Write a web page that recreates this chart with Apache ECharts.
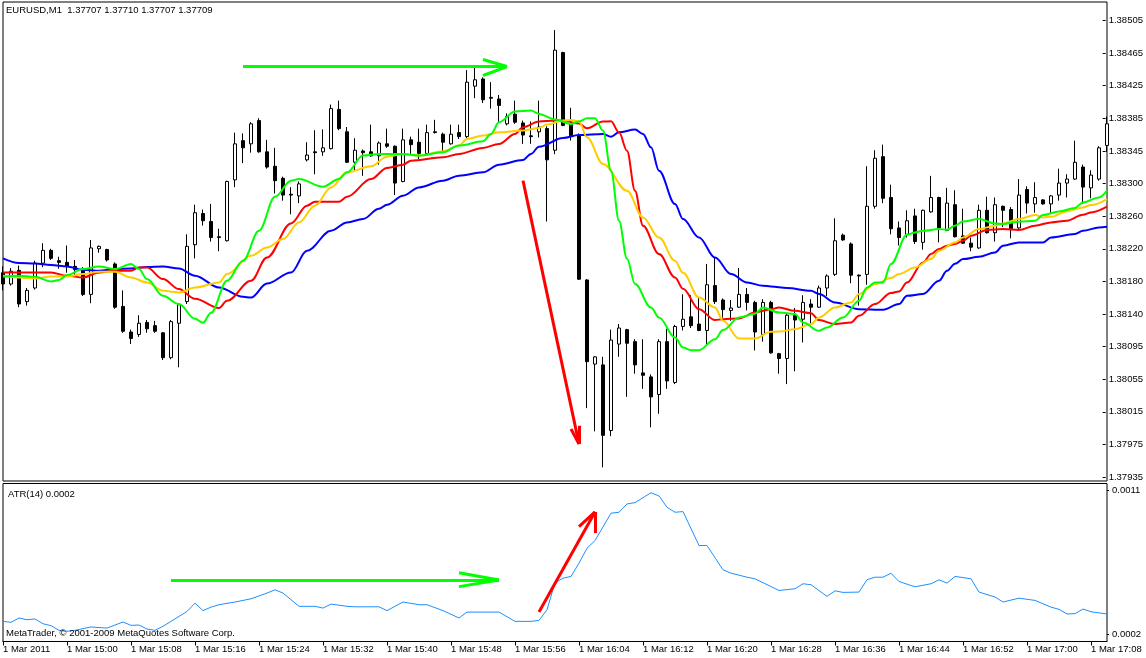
<!DOCTYPE html>
<html>
<head>
<meta charset="utf-8">
<script src="https://cdn.jsdelivr.net/npm/echarts@6/dist/echarts.min.js"></script>
<style>
html,body{margin:0;padding:0;background:#fff;}
#chart{width:1146px;height:658px;}
</style>
</head>
<body>
<div id="chart"></div>
<script>
// ---- categories (1-minute bars, 1 Mar 2011) ----
const times = ('14:52 14:53 14:54 14:55 14:56 14:57 14:58 14:59 ' +
 '15:00 15:01 15:02 15:03 15:04 15:05 15:06 15:07 15:08 15:09 15:10 15:11 15:12 15:13 15:14 15:15 15:16 15:17 15:18 15:19 ' +
 '15:20 15:21 15:22 15:23 15:24 15:25 15:26 15:27 15:28 15:29 15:30 15:31 15:32 15:33 15:34 15:35 15:36 15:37 15:38 15:39 ' +
 '15:40 15:41 15:42 15:43 15:44 15:45 15:46 15:47 15:48 15:49 15:50 15:51 15:52 15:53 15:54 15:55 15:56 15:57 15:58 15:59 ' +
 '16:00 16:01 16:02 16:03 16:04 16:05 16:06 16:07 16:08 16:09 16:10 16:11 16:12 16:13 16:14 16:15 16:16 16:17 16:18 16:19 ' +
 '16:20 16:21 16:22 16:23 16:24 16:25 16:26 16:27 16:28 16:29 16:30 16:31 16:32 16:33 16:34 16:35 16:36 16:37 16:38 16:39 ' +
 '16:40 16:41 16:42 16:43 16:44 16:45 16:46 16:47 16:48 16:49 16:50 16:51 16:52 16:53 16:54 16:55 16:56 16:57 16:58 16:59 ' +
 '17:00 17:01 17:02 17:03 17:04 17:05 17:06 17:07 17:08 17:09 17:10').split(' ');
const dayPrefix = '1 Mar ';
const firstTickLabel = '1 Mar 2011';

// ---- OHLC ----
const opens = [1.38190,1.38176,1.38193,1.38154,1.38171,1.38202,1.38218,1.38205,1.38203,1.38198,
1.38193,1.38163,1.38220,1.38219,1.38201,1.38148,1.38116,1.38113,1.38128,1.38124,
1.38115,1.38084,1.38127,1.38154,1.38225,1.38264,1.38254,1.38235,1.38230,1.38306,
1.38355,1.38351,1.38380,1.38341,1.38323,1.38308,1.38288,1.38286,1.38331,1.38341,
1.38341,1.38345,1.38394,1.38366,1.38328,1.38342,1.38341,1.38336,1.38351,1.38348,
1.38304,1.38356,1.38353,1.38339,1.38366,1.38363,1.38351,1.38365,1.38360,1.38423,
1.38432,1.38409,1.38407,1.38376,1.38388,1.38377,1.38361,1.38366,1.38370,1.38343,
1.38465,1.38376,1.38361,1.38181,1.38076,1.38075,1.37993,1.38101,1.38119,1.38104,
1.38065,1.38060,1.38038,1.38104,1.38053,1.38123,1.38135,1.38126,1.38118,1.38174,
1.38156,1.38143,1.38147,1.38163,1.38153,1.38113,1.38153,1.38089,1.38083,1.38137,
1.38132,1.38151,1.38147,1.38171,1.38188,1.38237,1.38226,1.38187,1.38188,1.38273,
1.38335,1.38284,1.38246,1.38238,1.38261,1.38228,1.38266,1.38284,1.38243,1.38275,
1.38236,1.38227,1.38221,1.38268,1.38240,1.38273,1.38269,1.38246,1.38294,1.38276,
1.38281,1.38276,1.38287,1.38302,1.38307,1.38322,1.38296,1.38307,1.38349];
const closes = [1.38176,1.38192,1.38151,1.38168,1.38202,1.38218,1.38208,1.38203,1.38198,1.38194,
1.38163,1.38221,1.38223,1.38206,1.38147,1.38117,1.38108,1.38127,1.38120,1.38117,
1.38084,1.38129,1.38150,1.38223,1.38265,1.38255,1.38234,1.38234,1.38304,1.38351,
1.38346,1.38376,1.38341,1.38322,1.38305,1.38287,1.38287,1.38301,1.38337,1.38340,
1.38346,1.38395,1.38370,1.38328,1.38343,1.38340,1.38336,1.38352,1.38348,1.38302,
1.38356,1.38350,1.38339,1.38365,1.38365,1.38353,1.38363,1.38360,1.38428,1.38431,
1.38406,1.38408,1.38399,1.38385,1.38378,1.38362,1.38360,1.38372,1.38331,1.38468,
1.38374,1.38361,1.38182,1.38079,1.38085,1.37987,1.38106,1.38121,1.38102,1.38075,
1.38062,1.38035,1.38104,1.38055,1.38123,1.38132,1.38124,1.38118,1.38175,1.38154,
1.38144,1.38146,1.38163,1.38153,1.38116,1.38153,1.38090,1.38083,1.38137,1.38131,
1.38153,1.38147,1.38171,1.38186,1.38230,1.38231,1.38187,1.38186,1.38273,1.38333,
1.38283,1.38245,1.38234,1.38255,1.38229,1.38268,1.38284,1.38246,1.38277,1.38235,
1.38227,1.38222,1.38268,1.38240,1.38275,1.38268,1.38245,1.38287,1.38277,1.38284,
1.38276,1.38286,1.38302,1.38307,1.38328,1.38297,1.38312,1.38346,1.38376];
const lows = [1.38168,1.38174,1.38147,1.38149,1.38169,1.38197,1.38206,1.38195,1.38190,1.38186,
1.38161,1.38152,1.38215,1.38204,1.38145,1.38115,1.38101,1.38110,1.38115,1.38115,
1.38081,1.38082,1.38072,1.38151,1.38208,1.38249,1.38229,1.38217,1.38229,1.38297,
1.38327,1.38340,1.38340,1.38320,1.38289,1.38280,1.38263,1.38277,1.38329,1.38313,
1.38336,1.38344,1.38368,1.38327,1.38317,1.38311,1.38335,1.38325,1.38346,1.38287,
1.38303,1.38337,1.38332,1.38338,1.38364,1.38342,1.38350,1.38357,1.38358,1.38408,
1.38402,1.38395,1.38377,1.38374,1.38376,1.38351,1.38351,1.38359,1.38254,1.38338,
1.38373,1.38355,1.38181,1.38021,1.37992,1.37947,1.37986,1.38085,1.38035,1.38064,
1.38045,1.37997,1.38014,1.38045,1.38051,1.38118,1.38121,1.38117,1.38099,1.38151,
1.38134,1.38130,1.38146,1.38143,1.38093,1.38104,1.38089,1.38064,1.38051,1.38067,
1.38103,1.38127,1.38146,1.38161,1.38186,1.38230,1.38177,1.38149,1.38175,1.38270,
1.38277,1.38238,1.38224,1.38234,1.38226,1.38219,1.38265,1.38228,1.38242,1.38234,
1.38226,1.38217,1.38220,1.38239,1.38229,1.38247,1.38233,1.38245,1.38264,1.38265,
1.38275,1.38265,1.38280,1.38284,1.38306,1.38276,1.38283,1.38305,1.38341];
const highs = [1.38198,1.38196,1.38199,1.38171,1.38205,1.38227,1.38220,1.38210,1.38224,1.38206,
1.38197,1.38231,1.38224,1.38220,1.38203,1.38168,1.38119,1.38137,1.38131,1.38130,
1.38116,1.38131,1.38151,1.38238,1.38275,1.38269,1.38276,1.38245,1.38305,1.38365,
1.38364,1.38378,1.38383,1.38356,1.38346,1.38310,1.38297,1.38304,1.38353,1.38368,
1.38369,1.38400,1.38405,1.38372,1.38358,1.38344,1.38375,1.38354,1.38370,1.38349,
1.38370,1.38360,1.38370,1.38375,1.38381,1.38365,1.38375,1.38375,1.38443,1.38447,
1.38434,1.38428,1.38412,1.38389,1.38405,1.38380,1.38379,1.38405,1.38373,1.38493,
1.38466,1.38396,1.38364,1.38182,1.38086,1.38085,1.38119,1.38126,1.38120,1.38107,
1.38107,1.38063,1.38107,1.38120,1.38125,1.38163,1.38162,1.38159,1.38201,1.38209,
1.38158,1.38156,1.38196,1.38171,1.38155,1.38157,1.38155,1.38090,1.38139,1.38146,
1.38162,1.38157,1.38174,1.38188,1.38258,1.38239,1.38228,1.38188,1.38323,1.38343,
1.38350,1.38300,1.38254,1.38268,1.38270,1.38269,1.38311,1.38285,1.38296,1.38293,
1.38270,1.38234,1.38275,1.38285,1.38284,1.38274,1.38272,1.38307,1.38298,1.38303,
1.38282,1.38287,1.38320,1.38313,1.38355,1.38325,1.38318,1.38348,1.38385];

// ---- moving averages, read at sampled bars: [barIndex, value] ----
const maGreen = [[0,1.381850],[2,1.381863],[4,1.381850],[6,1.381791],[7,1.381809],[8,1.381871],[10,1.381946],[12,1.381979],[14,1.381946],[16,1.382009],[17,1.381946],[18,1.381821],[20,1.381613],[22,1.381509],[24,1.381325],[25,1.381275],[26,1.381400],[28,1.381800],[30,1.382050],[32,1.382425],[34,1.382850],[36,1.383050],[37,1.383071],[40,1.382975],[42,1.383071],[43,1.383154],[45,1.383363],[47,1.383384],[50,1.383384],[52,1.383363],[55,1.383404],[57,1.383488],[60,1.383541],[61,1.383634],[62,1.383779],[64,1.383913],[66,1.383925],[67,1.383884],[69,1.383813],[71,1.383759],[72,1.383788],[73,1.383829],[74,1.383829],[75,1.383675],[76,1.383175],[77,1.382550],[78,1.382075],[79,1.381759],[81,1.381466],[82,1.381341],[84,1.381091],[85,1.380966],[86,1.380934],[87,1.380934],[89,1.381071],[90,1.381184],[92,1.381341],[94,1.381388],[95,1.381466],[97,1.381404],[99,1.381384],[100,1.381279],[102,1.381175],[103,1.381216],[105,1.381341],[107,1.381550],[108,1.381716],[109,1.381779],[110,1.381779],[111,1.382009],[113,1.382375],[114,1.382404],[115,1.382425],[117,1.382446],[118,1.382438],[119,1.382488],[120,1.382541],[122,1.382571],[124,1.382516],[125,1.382509],[127,1.382538],[129,1.382550],[130,1.382621],[132,1.382666],[134,1.382709],[135,1.382779],[137,1.382841],[138,1.382925]];
const maGold = [[0,1.381863],[2,1.381841],[4,1.381829],[6,1.381854],[8,1.381854],[10,1.381884],[12,1.381913],[14,1.381913],[16,1.381841],[18,1.381779],[20,1.381675],[22,1.381654],[24,1.381716],[27,1.381779],[28,1.381884],[31,1.382113],[33,1.382216],[35,1.382321],[37,1.382529],[39,1.382738],[41,1.382966],[43,1.383154],[46,1.383229],[48,1.383350],[50,1.383384],[52,1.383363],[55,1.383416],[57,1.383488],[58,1.383571],[60,1.383613],[62,1.383654],[65,1.383675],[67,1.383709],[68,1.383750],[70,1.383800],[71,1.383809],[72,1.383788],[73,1.383591],[75,1.383259],[78,1.382925],[80,1.382591],[82,1.382341],[84,1.382050],[85,1.381900],[87,1.381591],[89,1.381466],[90,1.381300],[92,1.381079],[94,1.381079],[96,1.381163],[97,1.381166],[99,1.381196],[101,1.381259],[102,1.381341],[104,1.381466],[106,1.381529],[107,1.381634],[109,1.381759],[111,1.381834],[112,1.381884],[114,1.381966],[116,1.382071],[117,1.382175],[119,1.382279],[120,1.382341],[122,1.382446],[124,1.382488],[125,1.382516],[127,1.382571],[129,1.382621],[130,1.382591],[131,1.382600],[133,1.382666],[135,1.382716],[136,1.382746],[138,1.382821]];
const maRed = [[0,1.381904],[6,1.381904],[8,1.381863],[10,1.381841],[12,1.381904],[14,1.381925],[16,1.381925],[17,1.381966],[18,1.381966],[20,1.381821],[22,1.381696],[24,1.381575],[27,1.381460],[28,1.381550],[31,1.381800],[33,1.382091],[36,1.382516],[38,1.382738],[39,1.382788],[42,1.382788],[43,1.382850],[46,1.383071],[48,1.383209],[50,1.383250],[51,1.383300],[55,1.383341],[57,1.383384],[60,1.383459],[62,1.383509],[64,1.383634],[65,1.383716],[67,1.383788],[69,1.383800],[70,1.383800],[72,1.383763],[73,1.383704],[75,1.383788],[76,1.383791],[77,1.383654],[78,1.383425],[79,1.382925],[80,1.382488],[82,1.382134],[84,1.381841],[85,1.381700],[87,1.381446],[89,1.381309],[90,1.381321],[92,1.381329],[94,1.381404],[96,1.381446],[97,1.381466],[99,1.381425],[101,1.381396],[102,1.381309],[104,1.381259],[106,1.381279],[107,1.381363],[109,1.381509],[111,1.381646],[112,1.381666],[113,1.381779],[115,1.382029],[116,1.382134],[117,1.382196],[118,1.382238],[119,1.382259],[120,1.382300],[121,1.382363],[123,1.382434],[125,1.382446],[127,1.382434],[129,1.382488],[131,1.382529],[133,1.382550],[135,1.382625],[136,1.382654],[138,1.382725]];
const maBlue = [[0,1.382079],[2,1.382021],[4,1.382016],[6,1.381996],[8,1.381979],[10,1.381938],[12,1.381925],[14,1.381946],[16,1.381954],[18,1.381971],[20,1.381979],[22,1.381954],[24,1.381863],[27,1.381716],[30,1.381600],[31,1.381591],[33,1.381765],[36,1.381904],[38,1.382175],[41,1.382425],[43,1.382529],[45,1.382571],[47,1.382700],[48,1.382750],[50,1.382863],[52,1.382966],[55,1.383050],[57,1.383113],[60,1.383154],[62,1.383250],[65,1.383309],[66,1.383384],[67,1.383475],[70,1.383584],[72,1.383621],[75,1.383634],[76,1.383600],[77,1.383654],[79,1.383688],[80,1.383634],[81,1.383466],[82,1.383175],[84,1.382759],[85,1.382571],[87,1.382341],[89,1.382091],[91,1.381884],[93,1.381779],[95,1.381738],[96,1.381729],[98,1.381709],[101,1.381675],[102,1.381634],[104,1.381529],[107,1.381446],[110,1.381438],[112,1.381509],[113,1.381613],[115,1.381634],[117,1.381800],[118,1.381925],[119,1.382013],[120,1.382071],[122,1.382100],[124,1.382154],[125,1.382238],[127,1.382279],[130,1.382279],[131,1.382341],[134,1.382384],[135,1.382425],[137,1.382466],[138,1.382475]];

// ---- ATR(14), read at sampled bars ----
const atr = [[0,0.000279],[1,0.000273],[2,0.000300],[3,0.000289],[4,0.000294],[5,0.000264],[6,0.000252],[7,0.000223],[8,0.000217],[9,0.000223],[11,0.000244],[13,0.000237],[15,0.000275],[16,0.000254],[17,0.000256],[18,0.000231],[19,0.000223],[20,0.000248],[21,0.000279],[23,0.000341],[24,0.000393],[25,0.000346],[26,0.000368],[27,0.000383],[29,0.000400],[31,0.000420],[33,0.000456],[34,0.000476],[35,0.000456],[37,0.000373],[39,0.000373],[40,0.000362],[41,0.000387],[43,0.000373],[44,0.000370],[47,0.000370],[48,0.000346],[50,0.000400],[52,0.000383],[53,0.000383],[55,0.000346],[57,0.000300],[58,0.000337],[62,0.000337],[64,0.000279],[66,0.000279],[67,0.000285],[68,0.000352],[69,0.000520],[70,0.000549],[71,0.000560],[72,0.000643],[73,0.000736],[74,0.000784],[76,0.000955],[77,0.000961],[78,0.001013],[79,0.001021],[81,0.001083],[82,0.001063],[83,0.000992],[84,0.000961],[85,0.000965],[87,0.000753],[88,0.000753],[90,0.000601],[91,0.000580],[93,0.000555],[94,0.000545],[97,0.000472],[99,0.000483],[100,0.000514],[101,0.000508],[103,0.000435],[104,0.000470],[105,0.000460],[107,0.000462],[108,0.000539],[109,0.000555],[110,0.000555],[111,0.000580],[112,0.000528],[114,0.000495],[116,0.000514],[117,0.000539],[118,0.000518],[119,0.000560],[121,0.000545],[122,0.000462],[124,0.000431],[125,0.000400],[127,0.000424],[129,0.000410],[131,0.000368],[132,0.000354],[133,0.000325],[134,0.000327],[135,0.000356],[136,0.000339],[138,0.000325]];

// ---- axis tick labels ----
const priceTickLabels = ['1.37935','1.37975','1.38015','1.38055','1.38095','1.38140','1.38180','1.38220','1.38260','1.38300','1.38345','1.38385','1.38425','1.38465','1.38505'];
const atrTickLabels = ['0.0002','0.0011'];

// ---- hand-drawn arrow annotations (data coordinates) ----
const priceArrows = [
  {color:'#00ff00', from:[30, 1.384475], to:[63.2, 1.384475], wings:[[60.1, 1.384563],[60.1, 1.384363]]},
  {color:'#ff0000', from:[65.0, 1.383050], to:[72.0, 1.379763], wings:[[70.9, 1.379950],[72.25, 1.379990]]}
];
const atrArrows = [
  {color:'#00ff00', from:[20.9, 0.0005375], to:[62.2, 0.0005375], wings:[[57.0, 0.000583],[57.0, 0.000496]]},
  {color:'#ff0000', from:[67.1, 0.000338], to:[74.0, 0.000963], wings:[[71.9, 0.000871],[74.2, 0.000831]]}
];

// ---- texts ----
const headerText = 'EURUSD,M1  1.37707 1.37710 1.37707 1.37709';
const atrTitle = 'ATR(14) 0.0002';
const copyrightText = 'MetaTrader, \u00a9 2001-2009 MetaQuotes Software Corp.';

const FONT = "'Liberation Sans', Arial, sans-serif";
const FS = 9.5;

function arrowLines(arrows){
  const out = [];
  arrows.forEach(a => {
    const ls = {color:a.color, width:3, type:'solid'};
    out.push([{coord:a.from, lineStyle:ls}, {coord:a.to}]);
    a.wings.forEach(w => out.push([{coord:w, lineStyle:ls}, {coord:a.to}]));
  });
  return out;
}

const ohlc = opens.map((o,i) => [o, closes[i], lows[i], highs[i]]);

// price axis mapping: 1.38505 at y=20.5, 1.37935 at y=477 ; panel y 2..481
const pxPerUnit = (477 - 20.5) / (1.38505 - 1.37935);
const priceMax = 1.38505 + (20.5 - 2) / pxPerUnit;
const priceMin = 1.37935 - (481 - 477) / pxPerUnit;
// ATR mapping: 0.0011 at y=490, 0.0002 at y=634 ; panel y 483.5..641.5
const atrPx = (634 - 490) / (0.0011 - 0.0002);
const atrMax = 0.0011 + (490 - 483.5) / atrPx;
const atrMin = 0.0002 - (641.5 - 634) / atrPx;

function maSeries(data, color){
  return {type:'line', xAxisIndex:0, yAxisIndex:0, data:data, showSymbol:false, symbol:'none',
    smooth:0.35, smoothMonotone:'x', lineStyle:{color:color, width:2}, itemStyle:{color:color},
    silent:true, z:3};
}
const hiddenAxis = {show:false, axisLine:{show:false}, axisTick:{show:false}, axisLabel:{show:false}, splitLine:{show:false}};

const chart = echarts.init(document.getElementById('chart'), null, {renderer:'canvas'});
chart.setOption({
  animation:false,
  backgroundColor:'#ffffff',
  textStyle:{fontFamily:FONT},
  grid:[
    {left:3, top:2, width:1104, height:479, show:true, borderColor:'#000', borderWidth:1, backgroundColor:'#fff'},
    {left:3, top:20.5, width:1104, height:456.5, show:false},
    {left:3, top:483.5, width:1104, height:158, show:true, borderColor:'#000', borderWidth:1, backgroundColor:'#fff'},
    {left:3, top:490, width:1104, height:144, show:false}
  ],
  xAxis:[
    Object.assign({type:'category', gridIndex:0, data:times, boundaryGap:false}, hiddenAxis),
    Object.assign({type:'category', gridIndex:1, data:times, boundaryGap:false}, hiddenAxis),
    {type:'category', gridIndex:2, data:times, boundaryGap:false,
      axisLine:{show:true, lineStyle:{color:'#000', width:1}},
      axisTick:{show:true, interval:7, length:4, lineStyle:{color:'#000'}},
      axisLabel:{show:true, interval:7, align:'left', margin:3, color:'#000', fontSize:FS, fontFamily:FONT,
        formatter:(v, i) => i === 0 ? firstTickLabel : dayPrefix + v},
      splitLine:{show:false}},
    Object.assign({type:'category', gridIndex:3, data:times, boundaryGap:false}, hiddenAxis)
  ],
  yAxis:[
    Object.assign({type:'value', gridIndex:0, min:priceMin, max:priceMax}, hiddenAxis),
    {type:'category', gridIndex:1, data:priceTickLabels, position:'right', boundaryGap:false,
      axisLine:{show:false}, axisTick:{show:true, interval:0, length:3, lineStyle:{color:'#000'}},
      axisLabel:{interval:0, margin:6, color:'#000', fontSize:FS, fontFamily:FONT}, splitLine:{show:false}},
    Object.assign({type:'value', gridIndex:2, min:atrMin, max:atrMax}, hiddenAxis),
    {type:'category', gridIndex:3, data:atrTickLabels, position:'right', boundaryGap:false,
      axisLine:{show:false}, axisTick:{show:true, interval:0, length:2, lineStyle:{color:'#000'}},
      axisLabel:{interval:0, margin:5, color:'#000', fontSize:FS, fontFamily:FONT}, splitLine:{show:false}}
  ],
  series:[
    {type:'candlestick', xAxisIndex:0, yAxisIndex:0, data:ohlc, barWidth:4, silent:true, z:2,
      itemStyle:{color:'#ffffff', color0:'#000000', borderColor:'#000000', borderColor0:'#000000', borderWidth:1}},
    maSeries(maBlue, '#0000ff'),
    maSeries(maRed, '#ff0000'),
    maSeries(maGold, '#ffcc00'),
    maSeries(maGreen, '#00ff00'),
    {type:'line', xAxisIndex:0, yAxisIndex:0, data:[], silent:true, z:5,
      markLine:{silent:true, symbol:['none','none'], animation:false, label:{show:false},
        lineStyle:{width:3, type:'solid'}, emphasis:{disabled:true}, data:arrowLines(priceArrows)}},
    {type:'line', xAxisIndex:2, yAxisIndex:2, data:atr, showSymbol:false, symbol:'none', silent:true,
      lineStyle:{color:'#1e90ff', width:1}, itemStyle:{color:'#1e90ff'}, z:3,
      markLine:{silent:true, symbol:['none','none'], animation:false, label:{show:false},
        lineStyle:{width:3, type:'solid'}, emphasis:{disabled:true}, data:arrowLines(atrArrows)}}
  ],
  graphic:[
    {type:'text', left:6, top:5, z:100, style:{text:headerText, font:FS + 'px ' + FONT, fill:'#000'}},
    {type:'text', left:8, top:489, z:100, style:{text:atrTitle, font:FS + 'px ' + FONT, fill:'#000'}},
    {type:'text', left:6, top:628, z:100, style:{text:copyrightText, font:FS + 'px ' + FONT, fill:'#000'}}
  ]
});
</script>
</body>
</html>
